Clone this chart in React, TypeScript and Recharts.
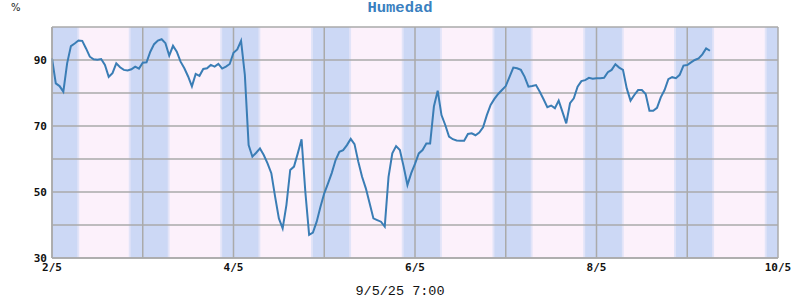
import React from "react";
import { LineChart, Line, XAxis, YAxis, CartesianGrid, ReferenceArea, ReferenceLine } from "recharts";

// humidity, one reading per hour starting 2/5 00:00
const humidity = [
  90.5, 82.9, 82.1, 80.4, 89, 94.2, 95, 95.9, 95.8, 93.5, 91, 90.2, 90.1, 90.3, 88.5, 84.9, 86, 89, 87.8, 87,
  86.8, 87.2, 88, 87.4, 89.2, 89.3, 92.5, 94.8, 95.9, 96.3, 95.1, 91.3, 94.3, 92.5, 89.5, 87.5, 85, 82, 85.8, 85.2,
  87.3, 87.5, 88.5, 88, 88.8, 87.4, 88, 88.8, 92.2, 93.2, 95.8, 85.5, 64.2, 60.7, 61.9, 63.2, 61.2, 58.7, 55.7, 48.6,
  42, 39, 46.1, 56.7, 57.7, 61.7, 66, 50, 37, 37.7, 41, 45.5, 49.6, 52.6, 55.8, 59.7, 62.2, 62.7, 64.2, 66.1,
  64.5, 59.2, 54.6, 51.1, 46.6, 42, 41.5, 41, 39.5, 54.6, 61.7, 63.9, 62.7, 57.7, 52.1, 55.7, 58.5, 61.7, 62.7, 64.7,
  64.7, 75.9, 80.7, 73.3, 70.3, 66.8, 66, 65.6, 65.5, 65.5, 67.6, 67.8, 67.2, 68, 69.6, 73.3, 76.4, 78.2, 79.7, 80.9,
  82.1, 84.9, 87.7, 87.5, 87, 84.9, 81.9, 82.1, 82.4, 80.4, 78.1, 75.7, 76.2, 75.4, 77.7, 74.3, 70.8, 76.9, 78.4, 81.9,
  83.6, 83.9, 84.6, 84.3, 84.5, 84.5, 84.6, 86.3, 87, 88.7, 87.7, 87, 81.4, 77.7, 79.4, 80.9, 80.9, 79.7, 74.6, 74.6,
  75.5, 78.7, 80.9, 84.2, 84.8, 84.5, 85.5, 88.3, 88.5, 89.3, 90, 90.5, 91.7, 93.5, 92.8,
];

// night shading (hours since 2/5 00:00)
const nightStarts = [0, 20.8, 45, 69, 93, 117, 141, 165, 189];
const nightEnds = [6.7, 30.6, 54.6, 78.6, 102.6, 126.6, 150.7, 174.6, 192];

const dayTicks = [0, 24, 48, 72, 96, 120, 144, 168, 192];
const yTicks = [30, 40, 50, 60, 70, 80, 90, 100];
const yLabels = [30, 50, 70, 90];

const data = humidity.map((v, i) => ({ h: i, v }));

const tickFont = { fontFamily: "DejaVu Sans Mono", fontWeight: "bold", fontSize: 11, fill: "#111" };
const edge = 0.5; // soft edge of the night bands, hours

const App = () => {
  return (
    <div style={{ position: "absolute", left: 0, top: 0, width: 800, height: 300, background: "#fff" }}>
      <div style={{ position: "absolute", left: 11, top: 2, fontFamily: "DejaVu Sans", fontSize: 10, color: "#222" }}>%</div>
      <div
        style={{
          position: "absolute",
          left: 0,
          width: 800,
          top: -1,
          textAlign: "center",
          fontFamily: "Liberation Mono",
          fontWeight: "bold",
          fontSize: 15.5,
          color: "#3a80c0",
        }}
      >
        Humedad
      </div>
      <div
        style={{
          position: "absolute",
          left: 0,
          width: 800,
          top: 284,
          textAlign: "center",
          fontFamily: "Liberation Mono",
          fontSize: 13.5,
          color: "#111",
        }}
      >
        9/5/25 7:00
      </div>
      <LineChart width={800} height={300} data={data} margin={{ top: 27, right: 22, bottom: 12, left: 12 }}>
        <CartesianGrid horizontal={false} vertical={false} fill="#fcf1fb" />
        {nightStarts.map((s, i) => (
          <ReferenceArea
            key={"e" + i}
            x1={Math.max(0, s - edge)}
            x2={Math.min(192, nightEnds[i] + edge)}
            fill="#e2e4f8"
            fillOpacity={1}
            stroke="none"
          />
        ))}
        {nightStarts.map((s, i) => (
          <ReferenceArea key={"n" + i} x1={s} x2={nightEnds[i]} fill="#ccd8f5" fillOpacity={1} stroke="none" />
        ))}
        {dayTicks.map((t) => (
          <ReferenceLine key={"x" + t} x={t} stroke="#aaaaaa" strokeWidth={1.5} />
        ))}
        {yTicks.map((t) => (
          <ReferenceLine key={"y" + t} y={t} stroke="#aaaaaa" strokeWidth={1.5} />
        ))}
        <XAxis
          dataKey="h"
          type="number"
          domain={[0, 192]}
          ticks={dayTicks}
          tickFormatter={(t: number) => (t / 24) % 2 === 0 ? `${2 + t / 24}/5` : ""}
          tickLine={false}
          tickSize={3}
          axisLine={{ stroke: "#aaaaaa", strokeWidth: 1.5 }}
          tick={tickFont}
          height={30}
          interval={0}
        />
        <YAxis
          type="number"
          domain={[30, 100]}
          ticks={yTicks}
          tickFormatter={(t: number) => (yLabels.includes(t) ? String(t) : "")}
          tickLine={false}
          tickSize={0}
          tickMargin={5}
          axisLine={{ stroke: "#aaaaaa", strokeWidth: 1.5 }}
          tick={tickFont}
          width={40}
          interval={0}
        />
        <Line type="linear" dataKey="v" stroke="#3a7db5" strokeWidth={2} dot={false} isAnimationActive={false} />
      </LineChart>
    </div>
  );
};

export default App;
